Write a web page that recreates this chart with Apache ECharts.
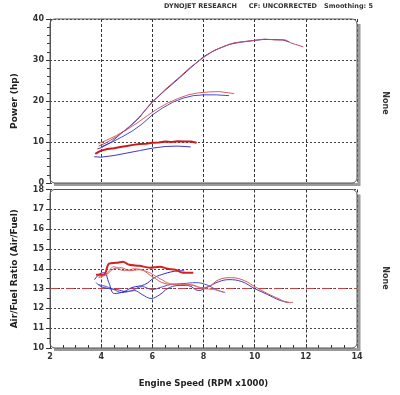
<!DOCTYPE html>
<html><head><meta charset="utf-8">
<script src="https://cdn.jsdelivr.net/npm/echarts@6/dist/echarts.min.js"></script>
<style>html,body{margin:0;padding:0;background:#fff}#c{width:400px;height:395px}</style>
</head><body><div id="c"></div>
<script>
// ---------- DATA ----------
const xTicks = [2, 4, 6, 8, 10, 12, 14];
const powerTicks = [0, 10, 20, 30, 40];
const afrTicks = [10, 11, 12, 13, 14, 15, 16, 17, 18];
const afrTarget = 13;

// Power runs (rpm x1000, hp)
const rpmA = [3.85,4.0,4.4,4.8,5.2,5.5,5.8,6.0,6.5,7.0,7.5,8.0,8.3,8.6,9.0,9.4,9.9,10.3,10.7,11.1,11.35];
const hpA  = [8.3,8.6,10.0,12.2,14.2,16.0,18.4,19.8,22.6,25.3,28.1,30.8,31.9,32.8,33.8,34.3,34.7,35.0,35.0,34.9,34.4];
const rpmB = [3.9,4.2,4.6,5.0,5.4,5.8,6.0,6.5,7.0,7.5,8.0,8.4,8.8,9.2,9.6,10.0,10.4,10.8,11.2,11.4,11.6,11.9];
const hpB  = [9.0,9.8,11.3,13.2,15.5,18.3,19.7,22.8,25.5,28.3,30.6,32.3,33.3,34.2,34.5,34.8,35.1,34.9,34.9,34.2,33.8,33.2];
const rpmC = [3.9,4.2,4.6,5.0,5.4,5.8,6.2,6.6,7.0,7.4,7.8,8.2,8.6,9.2];
const hpC  = [9.6,10.4,11.6,13.0,14.6,16.4,18.1,19.5,20.6,21.5,22.0,22.2,22.3,21.8];
const rpmD = [4.0,4.4,4.8,5.2,5.6,6.0,6.4,6.8,7.2,7.6,8.0,8.5,9.0];
const hpD  = [8.8,9.9,11.2,12.6,14.4,16.6,18.3,19.7,20.7,21.3,21.5,21.5,21.3];
const rpmE = [3.77,3.9,4.0,4.25,4.5,4.75,5.0,5.25,5.5,5.75,6.0,6.25,6.5,6.75,7.0,7.25,7.5,7.73];
const hpE  = [7.1,7.6,7.9,8.3,8.5,8.8,9.0,9.3,9.5,9.6,9.8,9.9,10.1,10.0,10.2,10.1,10.1,9.8];
const rpmF = [3.73,4.0,4.5,5.0,5.5,6.0,6.5,7.0,7.5];
const hpF  = [6.4,6.3,6.7,7.3,7.9,8.5,8.9,9.0,8.8];

// Air/Fuel runs (rpm x1000, AFR)
const afrRpmA = [3.8,4.0,4.3,4.6,5.0,5.3,5.6,5.95,6.3,6.6,7.0,7.4,7.8,8.2,8.6,9.0,9.5,10.0,10.5,11.0,11.35];
const afrA    = [13.3,13.1,13.0,12.95,12.85,12.9,12.7,12.5,12.7,13.0,13.15,13.15,12.9,13.1,13.35,13.45,13.35,13.0,12.7,12.4,12.3];
const afrRpmB = [3.9,4.2,4.5,4.8,5.1,5.5,6.0,6.5,7.0,7.5,7.9,8.2,8.6,9.1,9.6,10.0,10.5,11.0,11.3,11.5];
const afrB    = [13.55,13.7,14.0,14.05,13.9,13.95,13.6,13.25,13.2,13.2,13.05,13.1,13.45,13.55,13.4,13.1,12.75,12.45,12.3,12.3];
const afrRpmC = [3.9,4.2,4.5,4.9,5.3,5.8,6.3,6.7,7.2,7.6,8.0,8.4,8.8];
const afrC    = [13.6,13.75,14.1,13.9,14.0,13.85,13.5,13.25,13.2,13.15,13.0,12.95,12.8];
const afrRpmD = [3.9,4.2,4.5,4.8,5.2,5.6,6.0,6.3,6.7,7.2,7.7,8.1,8.5,8.85];
const afrD    = [13.2,13.1,12.95,12.8,12.9,13.1,12.95,13.05,13.2,13.25,13.3,13.2,12.95,12.8];
const afrRpmE = [3.8,4.0,4.15,4.3,4.6,4.85,5.1,5.5,5.9,6.3,6.6,6.9,7.2,7.6];
const afrE    = [13.7,13.7,13.75,14.25,14.3,14.35,14.2,14.15,14.05,14.1,14.0,13.95,13.8,13.8];
const afrRpmF = [3.74,3.95,4.13,4.3,4.52,4.9,5.2,5.7,6.08,6.35,6.86,7.25];
const afrF    = [13.45,13.75,13.8,13.3,12.75,12.85,13.05,13.2,13.55,13.7,13.87,13.9];

// ---------- CHART ----------
const pairs = (xs, ys) => xs.map((x, i) => [x, ys[i]]);
const FONT = '"DejaVu Sans", Verdana, sans-serif';
const G1 = {left: 50, top: 19, width: 307, height: 164};
const G2 = {left: 50, top: 189.5, width: 307, height: 158.5};

const splitX = {show: true, lineStyle: {color: '#333', type: [3, 2], width: 1}};
const splitY = {show: true, lineStyle: {color: '#444', type: [2, 2], width: 1}};
const lbl = {fontFamily: FONT, fontWeight: 'bold', fontSize: 8, color: '#333'};

function ln(gi, data, color, width, smooth) {
  return {type: 'line', xAxisIndex: gi, yAxisIndex: gi, data: data, showSymbol: false,
    smooth: smooth || 0, lineStyle: {color: color, width: width}, silent: true, animation: false, z: 5};
}

const series = [
  ln(0, pairs(rpmF, hpF), '#3a3ac8', 1),
  ln(0, pairs(rpmE, hpE), '#cc1a1a', 2),
  ln(0, pairs(rpmD, hpD), '#4a4ad0', 1),
  ln(0, pairs(rpmC, hpC), '#d86060', 1),
  ln(0, pairs(rpmA, hpA), '#3838c0', 1),
  ln(0, pairs(rpmB, hpB), '#c04a6a', 1),
  ln(1, pairs(afrRpmA, afrA), '#3a3ac8', 1, 0.4),
  ln(1, pairs(afrRpmD, afrD), '#5050cc', 1, 0.4),
  ln(1, pairs(afrRpmF, afrF), '#2a2ad8', 1, 0.4),
  ln(1, pairs(afrRpmB, afrB), '#d05a5a', 1, 0.4),
  ln(1, pairs(afrRpmC, afrC), '#d87070', 1, 0.4),
  ln(1, pairs(afrRpmE, afrE), '#d42020', 2, 0.3),
];
series[series.length - 1].markLine = {
  silent: true, symbol: 'none', label: {show: false},
  lineStyle: {color: '#c84040', type: [8, 3, 2, 3], width: 1},
  data: [{yAxis: afrTarget}]
};

function frame(g) {
  const x = g.left, y = g.top, w = g.width, h = g.height;
  return [
    {type: 'polyline', z: 20, silent: true,
      shape: {points: [[x + w + 2, y + 5], [x + w + 2, y + h + 1.5], [x + 4, y + h + 1.5]]},
      style: {stroke: '#9a9a9a', lineWidth: 3, fill: null}},
    {type: 'rect', z: 21, silent: true,
      shape: {x: x, y: y, width: w, height: h, r: 5},
      style: {stroke: '#555', lineWidth: 1, fill: null}}
  ];
}

const hdr = (txt, xr) => ({type: 'text', x: xr, y: 6, silent: true,
  style: {text: txt, font: 'bold 6.5px ' + FONT, fill: '#333', align: 'right', verticalAlign: 'middle'}});

const chart = echarts.init(document.getElementById('c'), null, {renderer: 'canvas'});
chart.setOption({
  animation: false,
  backgroundColor: '#fff',
  grid: [
    Object.assign({containLabel: false}, G1),
    Object.assign({containLabel: false}, G2)
  ],
  xAxis: [
    {gridIndex: 0, type: 'value', min: xTicks[0], max: xTicks[xTicks.length - 1], interval: 2,
      axisLine: {show: false}, axisTick: {show: false}, axisLabel: {show: false}, splitLine: splitX},
    {gridIndex: 1, type: 'value', min: xTicks[0], max: xTicks[xTicks.length - 1], interval: 2,
      axisLine: {show: false},
      axisTick: {show: true, inside: true, length: 4, lineStyle: {color: '#333'}},
      minorTick: {show: true, splitNumber: 4, length: 3, lineStyle: {color: '#333'}},
      axisLabel: Object.assign({margin: 5, formatter: v => xTicks.includes(v) ? String(v) : ''}, lbl),
      splitLine: splitX,
      name: 'Engine Speed (RPM x1000)', nameLocation: 'middle', nameGap: 31,
      nameTextStyle: {fontFamily: FONT, fontWeight: 'bold', fontSize: 8.5, color: '#222'}}
  ],
  yAxis: [
    {gridIndex: 0, type: 'value', min: powerTicks[0], max: powerTicks[powerTicks.length - 1], interval: 10,
      axisLine: {show: true, lineStyle: {color: '#555'}},
      axisTick: {show: true, length: 4, lineStyle: {color: '#333'}},
      minorTick: {show: true, splitNumber: 5, length: 3, lineStyle: {color: '#333'}},
      axisLabel: Object.assign({margin: 6}, lbl),
      splitLine: splitY,
      name: 'Power (hp)', nameLocation: 'middle', nameGap: 31,
      nameTextStyle: {fontFamily: FONT, fontWeight: 'bold', fontSize: 9, color: '#222'}},
    {gridIndex: 1, type: 'value', min: afrTicks[0], max: afrTicks[afrTicks.length - 1], interval: 1,
      axisLine: {show: true, lineStyle: {color: '#555'}},
      axisTick: {show: true, length: 4, lineStyle: {color: '#333'}},
      minorTick: {show: true, splitNumber: 2, length: 3, lineStyle: {color: '#333'}},
      axisLabel: Object.assign({margin: 6}, lbl),
      splitLine: splitY,
      name: 'Air/Fuel Ratio (Air/Fuel)', nameLocation: 'middle', nameGap: 31,
      nameTextStyle: {fontFamily: FONT, fontWeight: 'bold', fontSize: 9, color: '#222'}}
  ],
  graphic: [
    hdr('DYNOJET RESEARCH', 237),
    hdr('CF: UNCORRECTED', 317),
    hdr('Smoothing: 5', 373),
    {type: 'text', x: 385, y: 103, rotation: -Math.PI / 2, silent: true,
      style: {text: 'None', font: 'bold 8px ' + FONT, fill: '#333', align: 'center', verticalAlign: 'middle'}},
    {type: 'text', x: 385, y: 278, rotation: -Math.PI / 2, silent: true,
      style: {text: 'None', font: 'bold 8px ' + FONT, fill: '#333', align: 'center', verticalAlign: 'middle'}}
  ].concat(frame(G1), frame(G2)),
  series: series
});
</script></body></html>
